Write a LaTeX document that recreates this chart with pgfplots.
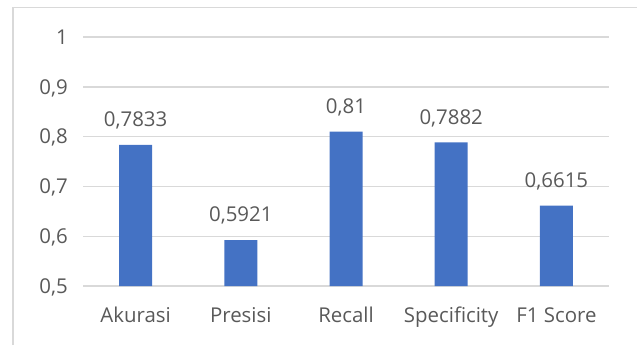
\documentclass[border=0pt]{standalone}
\usepackage{fontspec}
\setmainfont{Open Sans}
\usepackage{pgfplots}
\pgfplotsset{compat=1.18}
\definecolor{barblue}{HTML}{4472C4}
\definecolor{gridgray}{HTML}{D9D9D9}
\definecolor{textgray}{HTML}{595959}
\begin{document}
\begin{tikzpicture}[x=1bp,y=1bp]
\useasboundingbox (0,0) rectangle (637,345);
% chart frame
\draw[gridgray, line width=1.6bp] (13,0) -- (13,337.5);
\draw[gridgray, line width=1bp] (12.2,337.5) -- (637,337.5);
\begin{axis}[
  at={(83bp,59bp)}, anchor=south west,
  scale only axis, width=526bp, height=249bp,
  xmin=-0.5, xmax=4.5, ymin=0.5, ymax=1,
  axis line style={draw=none},
  major tick length=0pt,
  xtick=data,
  xticklabels={Akurasi,Presisi,Recall,Specificity,F1 Score},
  ytick={0.5,0.6,0.7,0.8,0.9,1},
  ymajorgrids,
  grid style={gridgray, line width=1.4bp},
  /pgf/number format/.cd, use comma, assume math mode=true, fixed, precision=4,
  /pgfplots/.cd,
  tick label style={font=\fontsize{20.5}{24}\selectfont, text=textgray, inner sep=0pt},
  yticklabel style={anchor=base east, xshift=-15bp, yshift=-7.2bp},
  xticklabel style={anchor=base, yshift=-36.7bp},
  nodes near coords,
  every node near coord/.append style={font=\fontsize{20.5}{24}\selectfont, text=textgray, anchor=base, inner sep=0pt, yshift=18.2bp},
]
\addplot[ybar, bar width=33bp, fill=barblue, draw=none, bar shift=0pt] coordinates {
  (0,0.7833) (1,0.5921) (2,0.81) (3,0.7882) (4,0.6615)
};
\end{axis}
\end{tikzpicture}
\end{document}
